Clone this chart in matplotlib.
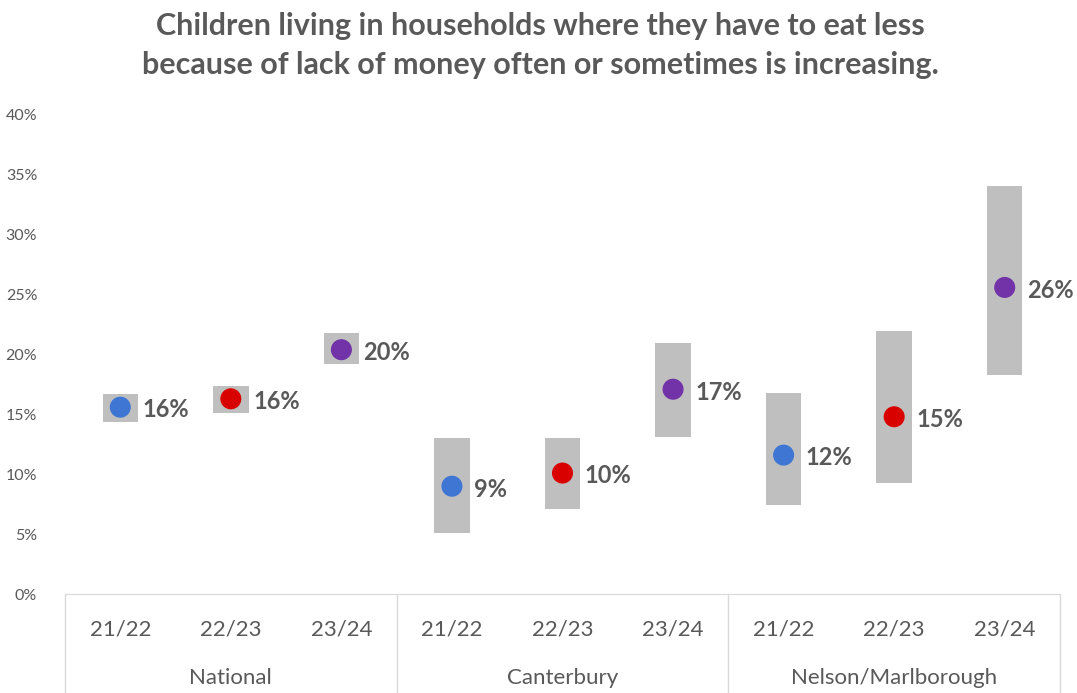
import numpy as np
import matplotlib
matplotlib.use("Agg")
import matplotlib.pyplot as plt
import matplotlib.transforms as mtransforms

plt.rcParams['font.family'] = ['Lato', 'DejaVu Sans']

# data (percent)
groups = ['National', 'Canterbury', 'Nelson/Marlborough']
years = ['21/22', '22/23', '23/24']
values = [15.6, 16.3, 20.4, 9.0, 10.1, 17.1, 11.6, 14.8, 25.6]
ci_low = [14.4, 15.1, 19.2, 5.1, 7.1, 13.1, 7.4, 9.3, 18.3]
ci_high = [16.7, 17.4, 21.8, 13.0, 13.0, 21.0, 16.8, 22.0, 34.1]
year_colors = ['#3F76D4', '#D90000', '#7232A8']

grey = '#595959'

fig = plt.figure(figsize=(10.77, 6.93), dpi=100)
ax = fig.add_axes([65/1077, 1 - 594/693, (1060 - 65)/1077, (594 - 115)/693])

x = np.arange(len(values))
lo = np.array(ci_low)
hi = np.array(ci_high)
ax.bar(x, hi - lo, bottom=lo, width=0.32, color='#BFBFBF', zorder=1)
cols = [year_colors[i % 3] for i in range(len(values))]
ax.scatter(x, values, s=200, c=cols, zorder=3)

for xi, v in zip(x, values):
    ax.annotate(f'{round(v)}%', (xi, v), xytext=(16, -2), textcoords='offset points',
                ha='left', va='center', fontsize=17, fontweight='bold', color=grey)

ax.set_xlim(-0.5, len(values) - 0.5)
ax.set_ylim(0, 40)
ax.set_yticks(np.arange(0, 41, 5))
ax.set_yticklabels([f'{t}%' for t in range(0, 41, 5)], fontsize=11.5, color=grey)
ax.tick_params(axis='y', length=0, pad=20)
ax.set_xticks([])
for s in ['top', 'right', 'left']:
    ax.spines[s].set_visible(False)
ax.spines['bottom'].set_color('#D9D9D9')

# category axis labels
trans = mtransforms.blended_transform_factory(ax.transData, fig.transFigure)
for i, xi in enumerate(x):
    ax.text(xi, 1 - 630/693, years[i % 3], transform=trans, ha='center', va='center',
            fontsize=16, color=grey)
for g, name in enumerate(groups):
    ax.text(g * 3 + 1, 1 - 678/693, name, transform=trans, ha='center', va='center',
            fontsize=16, color=grey)
for b in [-0.5, 2.5, 5.5, 8.5]:
    ax.plot([b, b], [1 - 594/693, 0], transform=trans, color='#D9D9D9', lw=1, clip_on=False)

fig.text(540/1077, 1 - 26/693, 'Children living in households where they have to eat less',
         ha='center', va='center', fontsize=22, fontweight='bold', color=grey)
fig.text(540/1077, 1 - 65/693, 'because of lack of money often or sometimes is increasing.',
         ha='center', va='center', fontsize=22, fontweight='bold', color=grey)

fig.savefig('out.png', dpi=100)
